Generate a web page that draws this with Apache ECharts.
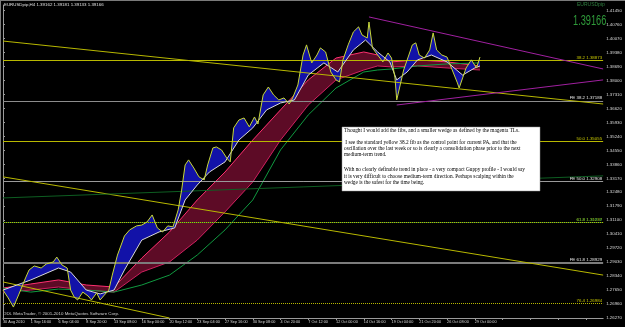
<!DOCTYPE html>
<html><head><meta charset="utf-8">
<script src="https://cdn.jsdelivr.net/npm/echarts@6/dist/echarts.min.js"></script>
<style>html,body{margin:0;padding:0;background:#000}#c{width:625px;height:327px}</style>
</head><body><div id="c"></div>
<script>
// ---- data (bar index on H4 timeline, price) ----
const tickLabels = ['30 Aug 2010','1 Sep 16:00','6 Sep 04:00','8 Sep 20:00','13 Sep 08:00','16 Sep 00:00','20 Sep 12:00','23 Sep 04:00','27 Sep 16:00','30 Sep 08:00','4 Oct 20:00','7 Oct 12:00','12 Oct 00:00','14 Oct 16:00','19 Oct 04:00','21 Oct 20:00','26 Oct 08:00','29 Oct 00:00'];
const priceIdx = [0,3,6,9,13,15,18,22,25,29,31,34,37,39,41,43,46,49,51,54,56,58,61,63,66,70,73,77,80,83,86,89,92,95,98,101,103,105,107,110,113,116,118,121,123,126,129,131,133,136,139,142,145,147,150,153,156,159,162,165,167,170,173,175,178,181,183,186,189,192,194,196,199,202,205,207,210,211,213,216,219,222,224,226,227,229,231,234,236,238,240,243,246,248,250,253,256,259,262,263,265,267,270,273,275];
const priceVals = [1.2765,1.2726,1.2681,1.2741,1.2825,1.2864,1.2884,1.2874,1.2894,1.2904,1.2928,1.2889,1.2874,1.2765,1.2731,1.2716,1.2755,1.2736,1.2716,1.2751,1.2716,1.2736,1.2765,1.2839,1.2938,1.3032,1.3062,1.3082,1.3086,1.3101,1.3136,1.3072,1.3052,1.3082,1.3077,1.3161,1.3259,1.3383,1.3408,1.3368,1.3324,1.3309,1.3383,1.3467,1.3472,1.3457,1.3417,1.3398,1.3566,1.3605,1.3615,1.3571,1.3620,1.3585,1.3729,1.3768,1.3729,1.3704,1.3714,1.3684,1.3714,1.3778,1.3926,1.3976,1.3887,1.3926,1.3961,1.3941,1.3842,1.3803,1.3793,1.3902,1.3976,1.4040,1.4065,1.4025,1.4010,1.4089,1.3961,1.3926,1.3892,1.3936,1.3911,1.3813,1.3704,1.3778,1.3852,1.3926,1.3976,1.3986,1.3926,1.3911,1.3951,1.4035,1.3951,1.3926,1.3916,1.3852,1.3788,1.3763,1.3813,1.3862,1.3902,1.3862,1.3916];
const whiteIdx = [0,16,32,39,48,56,64,70,80,90,99,105,112,119,128,136,144,152,160,168,176,185,193,202,209,216,223,227,233,239,247,256,265,272,275];
const whiteVals = [1.2765,1.2815,1.2874,1.2854,1.2765,1.2746,1.2765,1.2864,1.3012,1.3052,1.3072,1.3210,1.3284,1.3348,1.3398,1.3506,1.3566,1.3655,1.3689,1.3704,1.3827,1.3887,1.3842,1.3951,1.4000,1.3941,1.3892,1.3803,1.3842,1.3902,1.3926,1.3892,1.3827,1.3862,1.3872];
const longIdx = [0,16,32,48,64,80,96,112,128,144,160,176,192,208,216,224,239,256,275];
const longTopVals = [1.2775,1.2795,1.2815,1.2790,1.2780,1.2923,1.3052,1.3210,1.3348,1.3506,1.3655,1.3803,1.3911,1.3941,1.3926,1.3892,1.3902,1.3892,1.3872];
const longBotVals = [1.2755,1.2765,1.2780,1.2765,1.2755,1.2854,1.2904,1.3012,1.3151,1.3299,1.3506,1.3679,1.3803,1.3852,1.3872,1.3867,1.3872,1.3862,1.3852];
const greenVals = [1.2775,1.2755,1.2770,1.2765,1.2755,1.2790,1.2839,1.2938,1.3062,1.3210,1.3457,1.3630,1.3763,1.3842,1.3852,1.3857,1.3872,1.3882,1.3887];
const fibNames = ['38.2','FE 38.2','50.0','FE 50.0','61.8','61.8','FE 61.8','76.4'];
const fibValues = [1.38873,1.37188,1.35055,1.32908,1.31237,1.30908,1.28929,1.26984];
const topLevel = 1.4153;
const trendFrom = [[0,1.3995],[0,1.3324],[0,1.2805],[211,1.4114],[227,1.3679],[0,1.3220]];
const trendTo = [[346,1.3684],[346,1.2839],[96,1.2627],[346,1.3857],[346,1.3803],[346,1.3329]];
const quoteVals = [1.39162,1.39181,1.39133,1.39166];
const symbolName = 'EURUSDpip,H4';
const noteLines = ['Thought I would add the fibs, and a smaller wedge as defined by the magenta TLs.',
 ' I see the standard yellow 38.2 fib as the control point for current PA, and that the',
 'oscillation over the last week or so is clearly a consolidation phase prior to the next',
 'medium-term trend.',
 'With no clearly definable trend in place - a very compact Guppy profile - I would say',
 'it is very difficult to choose medium-term direction. Perhaps scalping within the',
 'wedge is the safest for the time being.'];

// ---- styles ----
const fibColors = ['#b8b800','#8c8c8c','#b8b800','#9a9a9a','#b8b800','#1e6e2e','#7c7c7c','#b8b800'];
const fibTypes = ['solid','solid','solid','solid','solid','dotted','solid','dotted'];
const fibWidths = [1,1,1,1,1,1,2,1];
const fibLabelColors = ['#c8c800','#e8e8e8','#c8c800','#e8e8e8','#c8c800','#2f8f3f','#e8e8e8','#c8c800'];
const trendColors = ['#b8b800','#b8b800','#b8b800','#a020a0','#a020a0','#0e5e22'];

const zip = (a,b)=>a.map((v,i)=>[v,b[i]]);
function band(upI, upV, loI, loV, fill){
  return function(params, api){
    const pts=[];
    for(let i=0;i<upI.length;i++) pts.push(api.coord([upI[i],upV[i]]));
    for(let i=loI.length-1;i>=0;i--) pts.push(api.coord([loI[i],loV[i]]));
    return {type:'polygon',shape:{points:pts},style:{fill:fill},silent:true};
  };
}
const smallFont = 'Liberation Sans';
const fs = 4.4;

const markData = [];
markData.push({yAxis:topLevel, lineStyle:{color:'#1e6e2e',type:'dotted',width:1}, label:{show:false}});
fibValues.forEach((v,i)=>{
  markData.push({yAxis:v, lineStyle:{color:fibColors[i],type:fibTypes[i],width:fibWidths[i]},
    label:{show:true,position:'insideEndTop',distance:[1,0.5],formatter:fibNames[i]+' '+v.toFixed(5),
      color:fibLabelColors[i],fontSize:fs,fontFamily:smallFont}});
});
trendFrom.forEach((p,i)=>{
  markData.push([{coord:p, lineStyle:{color:trendColors[i],width:1,type:'solid'}, label:{show:false}},{coord:trendTo[i]}]);
});
markData.push({yAxis:quoteVals[3], lineStyle:{opacity:0},
  label:{show:true,position:'end',distance:2,formatter:quoteVals[3].toFixed(5),color:'#000',backgroundColor:'#f0f0f0',
    padding:[1,1,0,1],fontSize:fs,fontFamily:smallFont}});

const graphic = [
  {type:'rect',shape:{x:0,y:0,width:625,height:1},style:{fill:'#7a7a7a'}},
  {type:'rect',shape:{x:0,y:0,width:1,height:327},style:{fill:'#7a7a7a'}},
  {type:'text',x:4,y:5,style:{text:symbolName+' '+quoteVals.map(v=>v.toFixed(5)).join(' '),fill:'#e0e0e0',font:fs+'px '+smallFont,verticalAlign:'middle'}},
  {type:'text',x:577,y:5,style:{text:'EURUSDpip',fill:'#2f7f3f',font:'5px '+smallFont,verticalAlign:'middle'}},
  {type:'text',x:573,y:21,scaleX:0.66,style:{text:quoteVals[3].toFixed(5),fill:'#2f9a3a',font:'14px '+smallFont,verticalAlign:'middle'}},
  {type:'text',x:3,y:314,style:{text:'ODL MetaTrader, \u00a9 2001-2010 MetaQuotes Software Corp.',fill:'#d0d0d0',font:fs+'px '+smallFont,verticalAlign:'middle'}},
  {type:'rect',shape:{x:342,y:127,width:198,height:64},style:{fill:'#ffffff',stroke:'#909090',lineWidth:0.5},z:50}
];
const noteY = [131,143,149,155,170,177,183];
noteLines.forEach((t,i)=>graphic.push({type:'text',x:344,y:noteY[i],z:51,style:{text:t,fill:'#000',font:'5.3px "Liberation Serif"',verticalAlign:'middle'}}));

const option = {
  backgroundColor:'#000',
  animation:false,
  grid:{left:2,right:17,top:5,bottom:9},
  xAxis:{type:'value',min:0,max:346,interval:16,
    axisLine:{lineStyle:{color:'#9a9a9a'}},
    axisTick:{length:2,lineStyle:{color:'#9a9a9a'}},
    splitLine:{show:false},
    axisLabel:{color:'#d8d8d8',fontSize:3.8,fontFamily:smallFont,align:'left',margin:2,showMaxLabel:false,
      formatter:v=>tickLabels[Math.round(v/16)]||''}},
  yAxis:{type:'value',position:'right',min:1.2627,max:1.4173,interval:0.0069,
    axisLine:{show:true,lineStyle:{color:'#9a9a9a'}},
    axisTick:{show:true,length:2,lineStyle:{color:'#9a9a9a'}},
    splitLine:{show:false},
    axisLabel:{color:'#d8d8d8',fontSize:fs,fontFamily:smallFont,margin:3,showMaxLabel:false,
      formatter:v=>v.toFixed(5)}},
  series:[
    {type:'line',data:[],markLine:{symbol:['none','none'],silent:true,data:markData},z:1},
    {type:'custom',renderItem:band(longIdx,longTopVals,longIdx,longBotVals,'rgba(170,20,70,0.55)'),data:[[0,1.3]],z:2},
    {type:'line',data:zip(longIdx,longTopVals),symbol:'none',lineStyle:{color:'#ff3070',width:1},z:3},
    {type:'line',data:zip(longIdx,longBotVals),symbol:'none',lineStyle:{color:'#d02060',width:1},z:3},
    {type:'line',data:zip(longIdx,greenVals),symbol:'none',lineStyle:{color:'#109a40',width:1},z:3},
    {type:'custom',renderItem:band(priceIdx,priceVals,whiteIdx,whiteVals,'#1212a8'),data:[[0,1.3]],z:4},
    {type:'line',data:zip(whiteIdx,whiteVals),symbol:'none',lineStyle:{color:'#d8d8d8',width:1},z:5},
    {type:'line',data:zip(priceIdx,priceVals),symbol:'none',lineStyle:{color:'#c8d838',width:1},z:6}
  ],
  graphic:graphic
};
echarts.init(document.getElementById('c')).setOption(option);
</script></body></html>
